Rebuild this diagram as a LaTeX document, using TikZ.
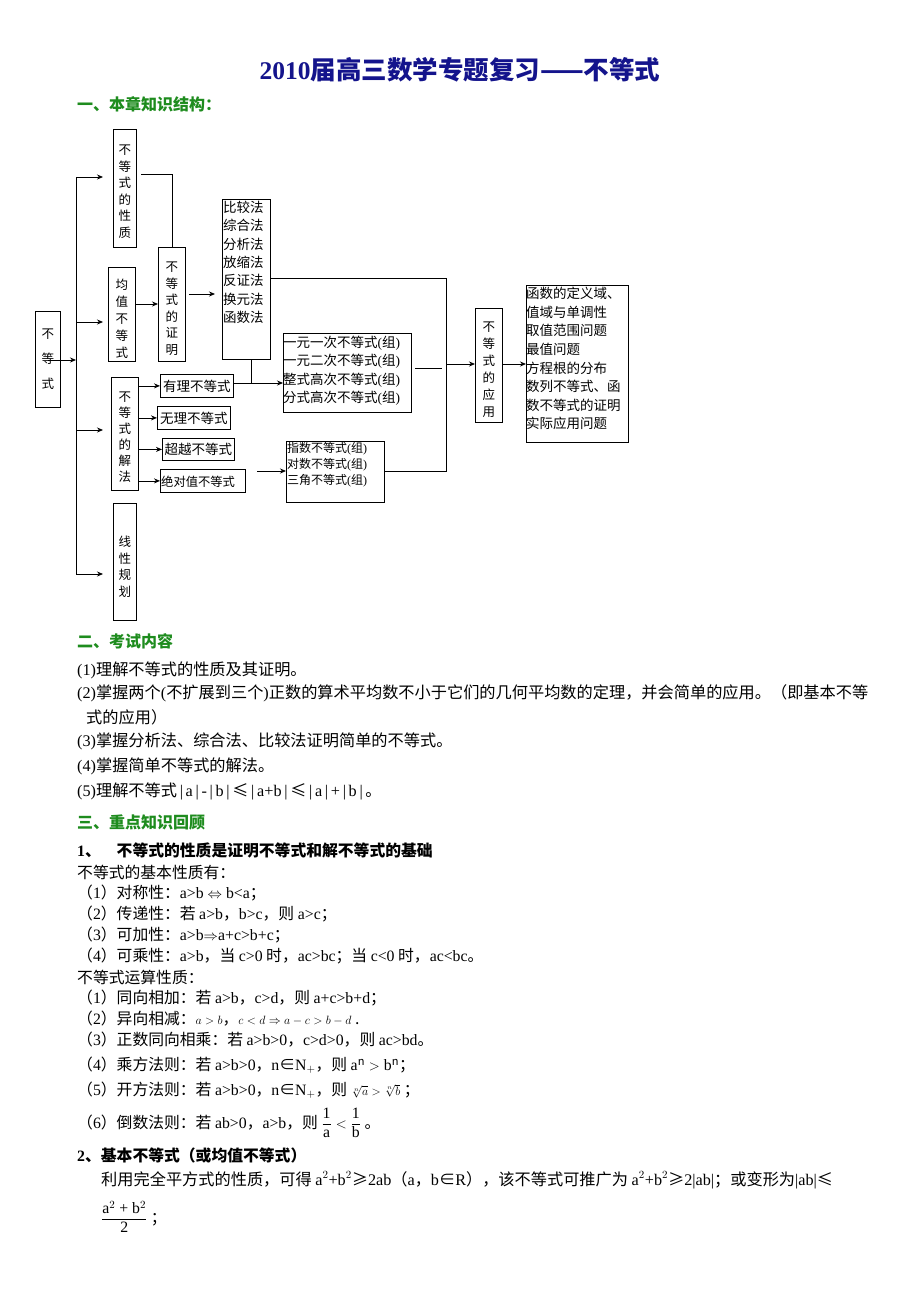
\documentclass[tikz,border=0pt]{standalone}
\usepackage{fontspec}
\setmainfont{Noto Sans CJK SC}
\newfontfamily\lat{Liberation Serif}
\newcommand{\lt}[1]{\mbox{\lat #1}}
\usetikzlibrary{arrows.meta}
\definecolor{ttl}{RGB}{20,20,140}
\definecolor{grn}{RGB}{30,140,30}
\tikzset{
 bx/.style={draw, line width=0.8pt, anchor=north west, inner sep=0pt},
 vt/.style={anchor=north, align=center, font=\fontsize{12.5}{16.5}\selectfont, inner sep=0pt},
 ht/.style={anchor=north west, align=left, font=\fontsize{13.5}{18.3}\selectfont, inner sep=1pt},
 sm/.style={anchor=center, font=\fontsize{13.5}{14}\selectfont, inner sep=0pt},
 ln/.style={line width=0.8pt},
 ar/.style={line width=0.8pt, -{Stealth[length=6pt,width=5pt]}},
 tx/.style={anchor=west, font=\fontsize{16.2}{18}\selectfont, inner sep=0pt},
 ty/.style={anchor=west, font=\fontsize{15.8}{18}\selectfont, inner sep=0pt},
 hd/.style={anchor=west, font=\bfseries\fontsize{16}{18}\selectfont, text=grn, inner sep=0pt},
}
\newcommand{\bxat}[5]{\node[bx, minimum width=#3, minimum height=#4] (#5) at (#1,#2) {};}
\begin{document}
\begin{tikzpicture}[x=1pt,y=-1pt]
\useasboundingbox[fill=white] (0,0) rectangle (920,1302);
\node[anchor=center, font=\bfseries\fontsize{25.5}{28}\selectfont, text=ttl] (title) at (460,70) {{\lat 2010}届高三数学专题复习——不等式};
\node[hd] (h1) at (77,104) {一、本章知识结构：};
% boxes
\bxat{35}{311}{25}{96}{main}
\bxat{113}{129}{23}{118}{xz}
\bxat{108}{267}{27}{94}{jz}
\bxat{158}{247}{27}{114}{zm}
\bxat{222}{199}{48}{160}{bj}
\bxat{111}{377}{27}{113}{jf}
\bxat{160}{374}{73}{23}{yl}
\bxat{157}{406}{73}{23}{wl}
\bxat{162}{438}{72}{22}{cy}
\bxat{160}{469}{85}{23}{jd}
\bxat{113}{503}{23}{117}{xx}
\bxat{283}{333}{128}{79}{yy}
\bxat{286}{441}{98}{61}{zs}
\bxat{475}{308}{27}{114}{yy2}
\bxat{526}{285}{102}{157}{hs}
% texts
\node[vt, font=\fontsize{12.5}{25}\selectfont] (tmain) at ([yshift=-18]main.north) {不\\等\\式};
\node[vt] (txz) at ([yshift=-16]xz.north) {不\\等\\式\\的\\性\\质};
\node[vt, font=\fontsize{12.5}{17}\selectfont] (tjz) at ([yshift=-12]jz.north) {均\\值\\不\\等\\式};
\node[vt] (tzm) at ([yshift=-15]zm.north) {不\\等\\式\\的\\证\\明};
\node[ht] (tbj) at ([yshift=-1]bj.north west) {比较法\\综合法\\分析法\\放缩法\\反证法\\换元法\\函数法};
\node[vt, font=\fontsize{12.5}{16}\selectfont] (tjf) at ([yshift=-15]jf.north) {不\\等\\式\\的\\解\\法};
\node[sm] (tyl) at (yl.center) {有理不等式};
\node[sm] (twl) at (wl.center) {无理不等式};
\node[sm] (tcy) at (cy.center) {超越不等式};
\node[anchor=west, font=\fontsize{12.3}{14}\selectfont, inner sep=1pt] (tjd) at ([yshift=-1]jd.west) {绝对值不等式};
\node[vt] (txx) at ([yshift=-33]xx.north) {线\\性\\规\\划};
\node[ht, inner sep=0pt] (tyy) at ([yshift=-3]yy.north west) {一元一次不等式{\lat(}组{\lat)}\\一元二次不等式{\lat(}组{\lat)}\\整式高次不等式{\lat(}组{\lat)}\\分式高次不等式{\lat(}组{\lat)}};
\node[ht, font=\fontsize{12}{16}\selectfont] (tzs) at (zs.north west) {指数不等式{\lat(}组{\lat)}\\对数不等式{\lat(}组{\lat)}\\三角不等式{\lat(}组{\lat)}};
\node[vt, font=\fontsize{12.5}{17}\selectfont] (tyy2) at ([yshift=-14]yy2.north) {不\\等\\式\\的\\应\\用};
\node[ht, font=\fontsize{13.5}{18.6}\selectfont, inner sep=0pt] (ths) at ([yshift=-2]hs.north west) {函数的定义域、\\值域与单调性\\取值范围问题\\最值问题\\方程根的分布\\数列不等式、函\\数不等式的证明\\实际应用问题};
% trunk
\coordinate (t1) at (76,177); \coordinate (t2) at (76,322); \coordinate (t3) at (76,430); \coordinate (t4) at (76,574); \coordinate (tm) at (76,360);
\draw[ln] (t1) -- (t4);
\draw[ar] (main.center |- tm) -- (tm);
\draw[ar] (t1) -- +(27,0);
\draw[ar] (t2) -- +(27,0);
\draw[ar] (t3) -- +(27,0);
\draw[ar] (t4) -- +(27,0);
% property -> proof
\coordinate (p1) at (141,174);
\draw[ln] (p1) -- (zm.north |- p1) -- (zm.north);
\draw[ar] (jz.east |- 0,304) -- (zm.west |- 0,304);
\draw[ar] ([xshift=3]zm.east |- 0,294) -- ([xshift=-7]bj.west |- 0,294);
% solution method arrows
\draw[ar] (jf.east |- yl.west) -- (yl.west);
\draw[ar] (jf.east |- wl.west) -- (wl.west);
\draw[ar] (jf.east |- cy.west) -- (cy.west);
\draw[ar] (jf.east |- jd.west) -- (jd.west);
% to groups
\coordinate (m1) at (251,383);
\draw[ln] (bj.south -| m1) -- (m1);
\draw[ar] (yl.east |- m1) -- (yy.west |- m1);
\coordinate (a1) at (257,471);
\draw[ar] (a1) -- (zs.west |- a1);
% right collector
\coordinate (c1) at (446,278); \coordinate (c2) at (446,471); \coordinate (c3) at (446,364);
\draw[ln] (bj.east |- c1) -- (c1) -- (c2) -- (zs.east |- c2);
\draw[ln] (415,368) coordinate (s1) -- (442,368) coordinate (s2);
\draw[ar] (c3) -- (yy2.west |- c3);
\draw[ar] (yy2.east |- c3) -- (hs.west |- c3);
% section 2
\node[hd] (h2) at (77,641) {二、考试内容};
\node[tx] (l1) at (77,670) {{\lat(1)}理解不等式的性质及其证明。};
\node[tx] (l2) at (77,693) {{\lat(2)}掌握两个{\lat(}不扩展到三个{\lat)}正数的算术平均数不小于它们的几何平均数的定理，并会简单的应用。（即基本不等};
\node[tx] (l2b) at (86,717) {式的应用）};
\node[tx] (l3) at (77,741) {{\lat(3)}掌握分析法、综合法、比较法证明简单的不等式。};
\node[tx] (l4) at (77,766) {{\lat(4)}掌握简单不等式的解法。};
\node[tx] (l5) at (77,791) {{\lat(5)}理解不等式{\lat\,|\,a\,|\,-\,|\,b\,|\,}≤{\lat\,|\,a+b\,|\,}≤{\lat\,|\,a\,|\,+\,|\,b\,|\,}。};
% section 3
\node[hd] (h3) at (77,822) {三、重点知识回顾};
\node[ty, font=\bfseries\fontsize{15.8}{18}\selectfont] (s1t) at (77,850) {{\lat 1}、\hspace{1em}不等式的性质是证明不等式和解不等式的基础};
\node[ty] (r0) at (77,872) {不等式的基本性质有：};
\node[ty] (r1) at (77,893) {（{\lat 1}）对称性：{\lat a>b $\Leftrightarrow$ b<a}；};
\node[ty] (r2) at (77,914) {（{\lat 2}）传递性：若 {\lat a>b}，{\lat b>c}，则 {\lat a>c}；};
\node[ty] (r3) at (77,935) {（{\lat 3}）可加性：{\lat a>b$\Rightarrow$a+c>b+c}；};
\node[ty] (r4) at (77,956) {（{\lat 4}）可乘性：{\lat a>b}，当 {\lat c>0} 时，{\lat ac>bc}；当 {\lat c<0} 时，{\lat ac<bc}。};
\node[ty] (r5) at (77,977) {不等式运算性质：};
\node[ty] (q1) at (77,998) {（{\lat 1}）同向相加：若 {\lat a>b}，{\lat c>d}，则 {\lat a+c>b+d}；};
\node[ty] (q2) at (77,1019) {（{\lat 2}）异向相减：{\large$a>b$}，{\large$c<d \Rightarrow a-c>b-d$} .};
\node[ty] (q3) at (77,1040) {（{\lat 3}）正数同向相乘：若 {\lat a>b>0}，{\lat c>d>0}，则 {\lat ac>bd}。};
\node[ty] (q4) at (77,1065) {（{\lat 4}）乘方法则：若 {\lat a>b>0}，{\lat n}∈{\lat N$_+$}，则 {\lat a$^{\rm n}$ $>$ b$^{\rm n}$}；};
\node[ty] (q5) at (77,1090) {（{\lat 5}）开方法则：若 {\lat a>b>0}，{\lat n}∈{\lat N$_+$}，则 {\large$\sqrt[n]{a}>\sqrt[n]{b}$} ；};
\node[ty] (q6) at (77,1123) {（{\lat 6}）倒数法则：若 {\lat ab>0}，{\lat a>b}，则 $\displaystyle\frac{\lt{1}}{\lt{a}}<\frac{\lt{1}}{\lt{b}}$ 。};
\node[ty, font=\bfseries\fontsize{15.8}{18}\selectfont] (s2t) at (77,1155) {{\lat 2}、基本不等式（或均值不等式）};
\node[tx] (b1) at (101,1180) {利用完全平方式的性质，可得 {\lat a$^2$+b$^2$}≥{\lat 2ab}（{\lat a}，{\lat b}∈{\lat R}），该不等式可推广为 {\lat a$^2$+b$^2$}≥{\lat 2|ab|}；或变形为{\lat |ab|}≤};
\node[ty] (b2) at (101,1217) {$\displaystyle\frac{\lt{a$^2$ + b$^2$}}{\lt{2}}$ ；};
\end{tikzpicture}
\end{document}
